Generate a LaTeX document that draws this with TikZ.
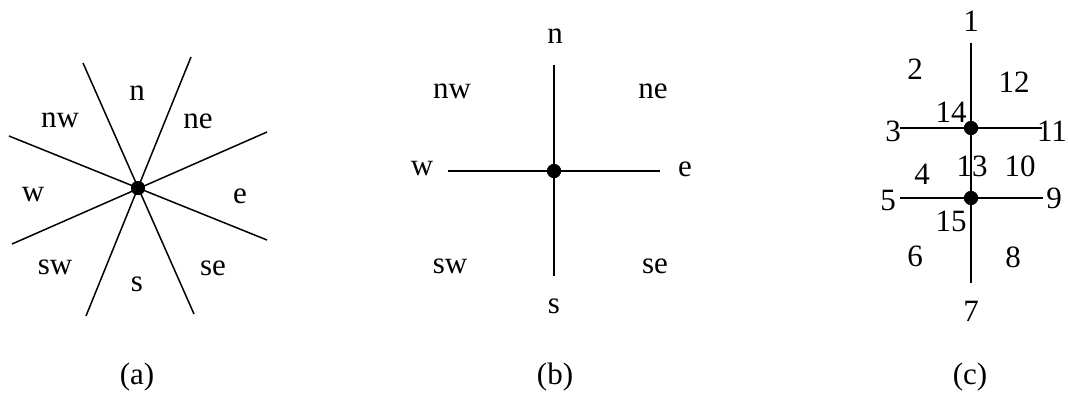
\documentclass[tikz,border=0pt]{standalone}
\usepackage{fontspec}
\setmainfont{Liberation Serif}
\begin{document}
\begin{tikzpicture}[x=1pt,y=-1pt,
  lbl/.style={font=\fontsize{31}{33}\selectfont, inner sep=0pt},
  dotnode/.style={circle, fill=black, minimum size=14pt, inner sep=0pt},
  ln/.style={line width=1.5pt}]
\useasboundingbox (0,0) rectangle (1068,394);
% ---------- (a)
\node[dotnode] (ca) at (138,188) {};
\coordinate (a1) at (83,63);   \coordinate (a2) at (194,314);
\coordinate (a3) at (191,57);  \coordinate (a4) at (86,316);
\coordinate (a5) at (9,136);   \coordinate (a6) at (267,240);
\coordinate (a7) at (267,132); \coordinate (a8) at (12,244);
\draw[ln] (a1) -- (a2);
\draw[ln] (a3) -- (a4);
\draw[ln] (a5) -- (a6);
\draw[ln] (a7) -- (a8);
\node[dotnode] at (ca) {};
\node[lbl] (an) at (137,93) {n};
\node[lbl] (anw) at (60,120) {nw};
\node[lbl] (ane) at (198,121) {ne};
\node[lbl] (aw) at (33,195) {w};
\node[lbl] (ae) at (240,196) {e};
\node[lbl] (asw) at (55,267) {sw};
\node[lbl] (as) at (137,284) {s};
\node[lbl] (ase) at (213,268) {se};
\node[lbl] (capa) at (137,377) {(a)};
% ---------- (b)
\node[dotnode] (cb) at (554,171) {};
\coordinate (b1) at (554,65);  \coordinate (b2) at (554,276);
\coordinate (b3) at (448,171); \coordinate (b4) at (660,171);
\draw[ln] (b1) -- (b2);
\draw[ln] (b3) -- (b4);
\node[dotnode] at (cb) {};
\node[lbl] (bn) at (555,36) {n};
\node[lbl] (bnw) at (452,91) {nw};
\node[lbl] (bne) at (653,91) {ne};
\node[lbl] (bw) at (422,169) {w};
\node[lbl] (be) at (685,169) {e};
\node[lbl] (bsw) at (450,266) {sw};
\node[lbl] (bse) at (655,266) {se};
\node[lbl] (bs) at (554,306) {s};
\node[lbl] (capb) at (555,377) {(b)};
% ---------- (c)
\node[dotnode] (cu) at (971,128) {};
\node[dotnode] (cl) at (971,198) {};
\coordinate (c1) at (971,43);  \coordinate (c2) at (971,283);
\coordinate (c3) at (900,128); \coordinate (c4) at (1042,128);
\coordinate (c5) at (900,198); \coordinate (c6) at (1043,198);
\draw[ln] (c1) -- (c2);
\draw[ln] (c3) -- (c4);
\draw[ln] (c5) -- (c6);
\node[dotnode] at (cu) {};
\node[dotnode] at (cl) {};
\node[lbl] (l1) at (971,21) {1};
\node[lbl] (l2) at (915,69) {2};
\node[lbl] (l12) at (1014,82) {12};
\node[lbl] (l14) at (951,112) {14};
\node[lbl] (l3) at (893,131) {3};
\node[lbl] (l11) at (1052,131) {11};
\node[lbl] (l4) at (922,174) {4};
\node[lbl] (l13) at (972,166) {13};
\node[lbl] (l10) at (1020,166) {10};
\node[lbl] (l5) at (888,200) {5};
\node[lbl] (l9) at (1054,198) {9};
\node[lbl] (l15) at (951,221) {15};
\node[lbl] (l6) at (915,256) {6};
\node[lbl] (l8) at (1013,257) {8};
\node[lbl] (l7) at (971,311) {7};
\node[lbl] (capc) at (970,377) {(c)};
\end{tikzpicture}
\end{document}
